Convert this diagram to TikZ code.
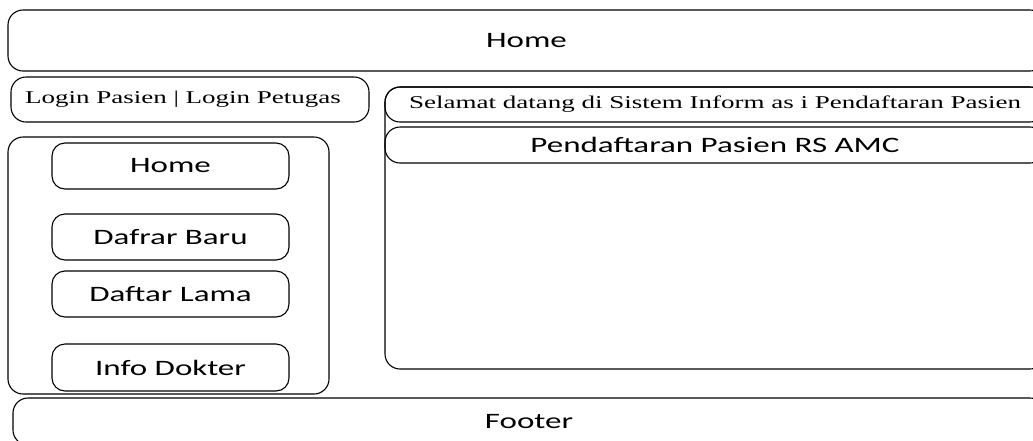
\documentclass[tikz,border=0pt]{standalone}
\usepackage{fontspec}
\setmainfont{Liberation Serif}
\newfontfamily\uisans{Carlito}
\newcommand{\wide}[1]{\scalebox{1.5}[1]{#1}}
\newcommand{\sanstext}[1]{\raisebox{-2.5pt}{\uisans\fontsize{22}{26}\selectfont\wide{#1}}}
\newcommand{\seriftext}[1]{\raisebox{-1.5pt}{\fontsize{18}{22}\selectfont\wide{#1}}}
\begin{document}
\begin{tikzpicture}[x=1pt,y=-1pt,
  uibox/.style={draw, line width=1.1pt, rounded corners=15pt, inner sep=0pt, text=black},
  uibtn/.style={uibox, rounded corners=13pt, minimum width=237pt, minimum height=46pt}]
\path[use as bounding box, clip] (0,0) rectangle (1033,440);
% header
\node[uibox, minimum width=1037pt, minimum height=61pt] (header) at (526.5,40.5) {\sanstext{Home}};
% login
\node[uibox, minimum width=358pt, minimum height=45pt] (login) at (190,99.5) {\hspace*{-14pt}\seriftext{Login Pasien | Login Petugas}};
% left menu panel
\node[uibox, minimum width=321pt, minimum height=257pt] (menu) at (168.5,265.5) {};
\node[uibtn] (bhome) at (170.5,166) {\sanstext{Home}};
\node[uibtn] (bbaru) at (170.5,237) {\sanstext{Dafrar Baru}};
\node[uibtn] (blama) at (170.5,294) {\sanstext{Daftar Lama}};
\node[uibtn, minimum height=47pt] (binfo) at (170.5,367.5) {\sanstext{Info Dokter}};
% right content panel
\node[uibox, minimum width=660pt, minimum height=282pt] (content) at (715,228) {};
\node[uibox, minimum width=660pt, minimum height=35pt] (welcome) at (715,104.5) {\seriftext{Selamat datang di Sistem Inform as i Pendaftaran Pasien}};
\node[uibox, minimum width=660pt, minimum height=36pt] (title) at (715,145) {\sanstext{Pendaftaran Pasien RS AMC}};
% footer
\node[uibox, minimum width=1032pt, minimum height=47pt] (footer) at (529,421.5) {\sanstext{Footer}};
\end{tikzpicture}
\end{document}
